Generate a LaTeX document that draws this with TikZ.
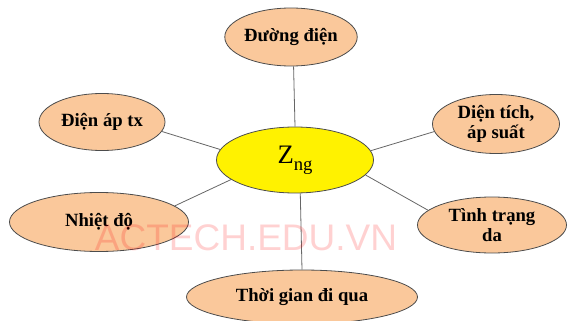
\documentclass[tikz,border=0pt]{standalone}
\usepackage{fontspec}
\setmainfont{Liberation Serif}
\newfontfamily\labelfont{Liberation Serif}
\newfontfamily\markfont{Liberation Sans}
\usetikzlibrary{shapes, positioning}

\definecolor{peach}{RGB}{250,200,155}

\begin{document}
\begin{tikzpicture}
            [x=0.75pt, y=-0.75pt, semithick,
            factor/.style={ellipse, draw=black!70, line width=0.6pt, fill=peach, inner sep=0pt, align=center,
              font=\labelfont\bfseries\fontsize{14}{15}\selectfont},
            hub/.style={ellipse, draw=black!70, line width=0.6pt, fill=yellow, inner sep=0pt,
              font=\labelfont\fontsize{20}{20}\selectfont},
            link/.style={draw=black!60, line width=0.6pt}]

            \useasboundingbox (0,0) rectangle (571,321);

            \node[hub, minimum width=117.75pt, minimum height=49.5pt] (zng) at (295,160)
              {Z\raisebox{-5pt}{\fontsize{14}{14}\selectfont ng}};
            \node[factor, minimum width=97.5pt, minimum height=43.5pt] (duong) at (291,37) {Đường điện};
            \node[factor, minimum width=94.5pt, minimum height=42.75pt] (dienap) at (102,122) {Điện áp tx};
            \node[factor, minimum width=95.25pt, minimum height=44.25pt] (dientich) at (496,124) {Diện tích,\\áp suất};
            \node[factor, minimum width=134.25pt, minimum height=44.25pt] (nhiet) at (99,222) {Nhiệt độ};
            \node[factor, minimum width=111.75pt, minimum height=42pt] (tinhtrang) at (492,225) {Tình trạng\\da};
            \node[factor, minimum width=173.25pt, minimum height=40.5pt] (thoigian) at (302,297) {Thời gian đi qua};

            \draw[link] (duong.-85) -- (zng.north);
            \draw[link] (dienap.-9.5) -- (zng.172.7);
            \draw[link] (dientich.-173) -- (zng.7.8);
            \draw[link] (nhiet.12) -- (zng.-163);
            \draw[link] (tinhtrang.167) -- (zng.-12);
            \draw[link] (zng.-81) -- (thoigian.90);

            \node[font=\markfont\fontsize{27.75}{30}\selectfont, text=red, text opacity=0.18, anchor=base]
              (mark) at (246,250) {ACTECH.EDU.VN};
        \end{tikzpicture}
\end{document}
